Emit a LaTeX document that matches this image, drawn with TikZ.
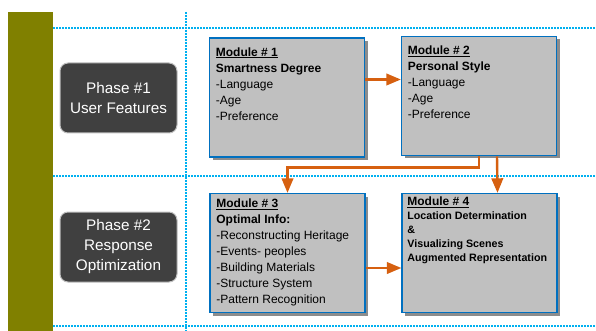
\documentclass[tikz,border=0pt]{standalone}
\usepackage{fontspec}
\setmainfont{Liberation Sans}
\usepackage{tikz}
\usetikzlibrary{arrows,shadows}
\definecolor{olivebar}{RGB}{128,128,0}
\definecolor{gridblue}{RGB}{0,176,240}
\definecolor{modblue}{RGB}{0,112,192}
\definecolor{modgray}{RGB}{192,192,192}
\definecolor{phasegray}{RGB}{64,64,64}
\definecolor{flow}{RGB}{214,96,16}
\tikzset{
    modbox/.style={draw=modblue,line width=1.6pt,fill=modgray,inner sep=0pt,minimum width=155pt,minimum height=119pt,
        drop shadow={shadow xshift=3pt,shadow yshift=-3pt,fill=black!45,opacity=1}},
    modtext/.style={anchor=north west,align=left,inner sep=0pt,font=\fontsize{12}{16}\selectfont},
    phasebox/.style={draw=black!25,line width=1pt,fill=phasegray,rounded corners=8pt,minimum width=117pt,minimum height=70pt,
        align=center,text=white,font=\fontsize{15.3}{20}\selectfont},
    gridline/.style={gridblue,line width=1.6pt,dash pattern=on 2pt off 1pt},
    flowline/.style={flow,line width=2.4pt}
}

\begin{document}
\begin{tikzpicture}[x=1pt,y=-1pt,>=triangle 45]
\useasboundingbox (0,0) rectangle (596,331);

% side bar and grid
\fill[olivebar] (8,12) rectangle (53,331);
\draw[gridline] (53,28) -- (596,28);
\draw[gridline] (53,176) -- (596,176);
\draw[gridline] (53,326) -- (596,326);
\draw[gridline] (186,12) -- (186,331);

% phases
\node[phasebox] (P1) at (118.5,98) {Phase \#1\\User Features};
\node[phasebox] (P2) at (118.5,247) {Phase \#2\\Response\\Optimization};

% modules
\node[modbox] (M1) at (287,97.5) {};
\node[modbox] (M2) at (479,96) {};
\node[modbox] (M3) at (287.5,253) {};
\node[modbox] (M4) at (479.5,253) {};

\node[modtext] (M1txt) at ([xshift=7pt,yshift=-10pt]M1.north west)
    {\textbf{\underline{Module \# 1}}\\\textbf{Smartness Degree}\\-Language\\-Age\\-Preference};
\node[modtext] (M2txt) at ([xshift=7pt,yshift=-10pt]M2.north west)
    {\textbf{\underline{Module \# 2}}\\\textbf{Personal Style}\\-Language\\-Age\\-Preference};
\node[modtext] (M3txt) at ([xshift=7pt,yshift=-6pt]M3.north west)
    {\textbf{\underline{Module \# 3}}\\\textbf{Optimal Info:}\\-Reconstructing Heritage\\-Events- peoples\\-Building Materials\\-Structure System\\-Pattern Recognition};
\node[modtext,font=\fontsize{10.7}{14}\selectfont\bfseries] (M4txt) at ([xshift=6pt,yshift=-4pt]M4.north west)
    {{\fontsize{12}{14}\selectfont\underline{Module \# 4}}\\Location Determination\\\&\\Visualizing Scenes\\Augmented Representation};

% flow
\draw[flowline,->] ([yshift=18pt]M1.east) -- ([yshift=18pt]M1.east -| M2.west);
\draw[flowline,->] (M2.south) -- ++(0,11) -| (M3.north);
\draw[flowline,->] ([xshift=18pt]M2.south) -- ([xshift=18pt]M4.north);
\draw[flowline,->] ([yshift=-15pt]M3.east) -- ([yshift=-15pt]M3.east -| M4.west);

\end{tikzpicture}
\end{document}
